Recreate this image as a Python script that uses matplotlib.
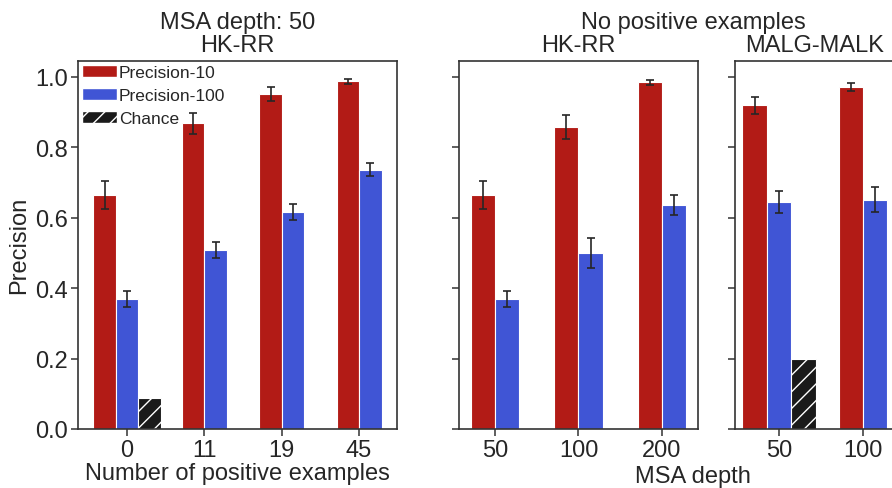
import numpy as np
import matplotlib
matplotlib.use("Agg")
import matplotlib.pyplot as plt
from matplotlib.patches import Patch

# ---- data ----
pos_examples = ["0", "11", "19", "45"]
left_p10 = [0.665, 0.867, 0.950, 0.986]
left_p10_err = [0.040, 0.031, 0.020, 0.007]
left_p100 = [0.369, 0.508, 0.615, 0.736]
left_p100_err = [0.022, 0.023, 0.022, 0.018]
left_chance = [0.088, None, None, None]

hk_depths = ["50", "100", "200"]
hk_p10 = [0.665, 0.857, 0.984]
hk_p10_err = [0.040, 0.035, 0.007]
hk_p100 = [0.369, 0.500, 0.635]
hk_p100_err = [0.022, 0.042, 0.028]
hk_chance = [None, None, None]

malg_depths = ["50", "100"]
malg_p10 = [0.918, 0.970]
malg_p10_err = [0.023, 0.011]
malg_p100 = [0.644, 0.651]
malg_p100_err = [0.030, 0.036]
malg_chance = [0.200, None]

RED = "#B21B16"
BLUE = "#4055D5"
CHANCE = "#1a1a1a"
TXT = "#262626"
EDGE = "#333333"

plt.rcParams["font.family"] = ["Liberation Sans", "DejaVu Sans"]
plt.rcParams["hatch.linewidth"] = 1.0

W, H = 892, 489
fig = plt.figure(figsize=(W / 100, H / 100), dpi=100)


def px_axes(x0, x1, ytop, ybot):
    return fig.add_axes([x0 / W, 1 - ybot / H, (x1 - x0) / W, (ybot - ytop) / H])


BW = 0.29


def draw(ax, labels, p10, p10e, p100, p100e, chance, xlim, show_ylabels):
    for i in range(len(labels)):
        has_c = chance[i] is not None
        if has_c:
            offs = [-BW, 0.0, BW]
        else:
            offs = [-BW / 2, BW / 2]
        ax.bar(i + offs[0], p10[i], BW, color=RED, edgecolor="white", linewidth=0.8, zorder=2)
        ax.errorbar(i + offs[0], p10[i], yerr=p10e[i], fmt="none", ecolor=TXT,
                    elinewidth=1.2, capsize=3, capthick=1.2, zorder=3)
        ax.bar(i + offs[1], p100[i], BW, color=BLUE, edgecolor="white", linewidth=0.8, zorder=2)
        ax.errorbar(i + offs[1], p100[i], yerr=p100e[i], fmt="none", ecolor=TXT,
                    elinewidth=1.2, capsize=3, capthick=1.2, zorder=3)
        if has_c:
            ax.bar(i + offs[2], chance[i], BW, color=CHANCE, edgecolor="white",
                   hatch="//", linewidth=0.8, zorder=2)
    ax.set_xlim(*xlim)
    ax.set_ylim(0, 1.045)
    ax.set_xticks(range(len(labels)))
    ax.set_xticklabels(labels)
    ax.set_yticks([0.0, 0.2, 0.4, 0.6, 0.8, 1.0])
    if show_ylabels:
        ax.set_yticklabels(["0.0", "0.2", "0.4", "0.6", "0.8", "1.0"])
    else:
        ax.set_yticklabels([])
    ax.tick_params(axis="both", direction="out", length=5, width=1.1, color=EDGE,
                   labelsize=17, labelcolor=TXT, pad=2.5)
    for s in ax.spines.values():
        s.set_color(EDGE)
        s.set_linewidth(1.2)


ax1 = px_axes(78, 397, 61.7, 430)
draw(ax1, pos_examples, left_p10, left_p10_err, left_p100, left_p100_err, left_chance,
     (-0.634, 3.49), True)
ax2 = px_axes(459, 698, 61.7, 430)
draw(ax2, hk_depths, hk_p10, hk_p10_err, hk_p100, hk_p100_err, hk_chance,
     (-0.431, 2.431), False)
ax3 = px_axes(735, 897, 61.7, 430)
draw(ax3, malg_depths, malg_p10, malg_p10_err, malg_p100, malg_p100_err, malg_chance,
     (-0.524, 1.405), False)

handles = [Patch(facecolor=RED, edgecolor="white", label="Precision-10"),
           Patch(facecolor=BLUE, edgecolor="white", label="Precision-100"),
           Patch(facecolor=CHANCE, edgecolor="white", hatch="//", label="Chance")]
ax1.legend(handles=handles, loc="upper left", frameon=False, fontsize=12.5,
           borderaxespad=0.1, borderpad=0.15, handlelength=2.0, handletextpad=0.1,
           labelspacing=0.45, labelcolor=TXT)


def ftext(x, y, s, size=17, **kw):
    fig.text(x / W, 1 - y / H, s, fontsize=size, color=TXT, ha="center", va="center", **kw)


ftext(237.5, 23, "MSA depth: 50")
ftext(237.5, 46, "HK-RR")
ftext(578.5, 46, "HK-RR")
ftext(815, 46, "MALG-MALK")
ftext(693, 23, "No positive examples")
ftext(237.5, 474, "Number of positive examples")
ftext(693, 477, "MSA depth")
ftext(19, 245, "Precision", rotation=90)

fig.savefig("out.png", dpi=100, facecolor="white")
